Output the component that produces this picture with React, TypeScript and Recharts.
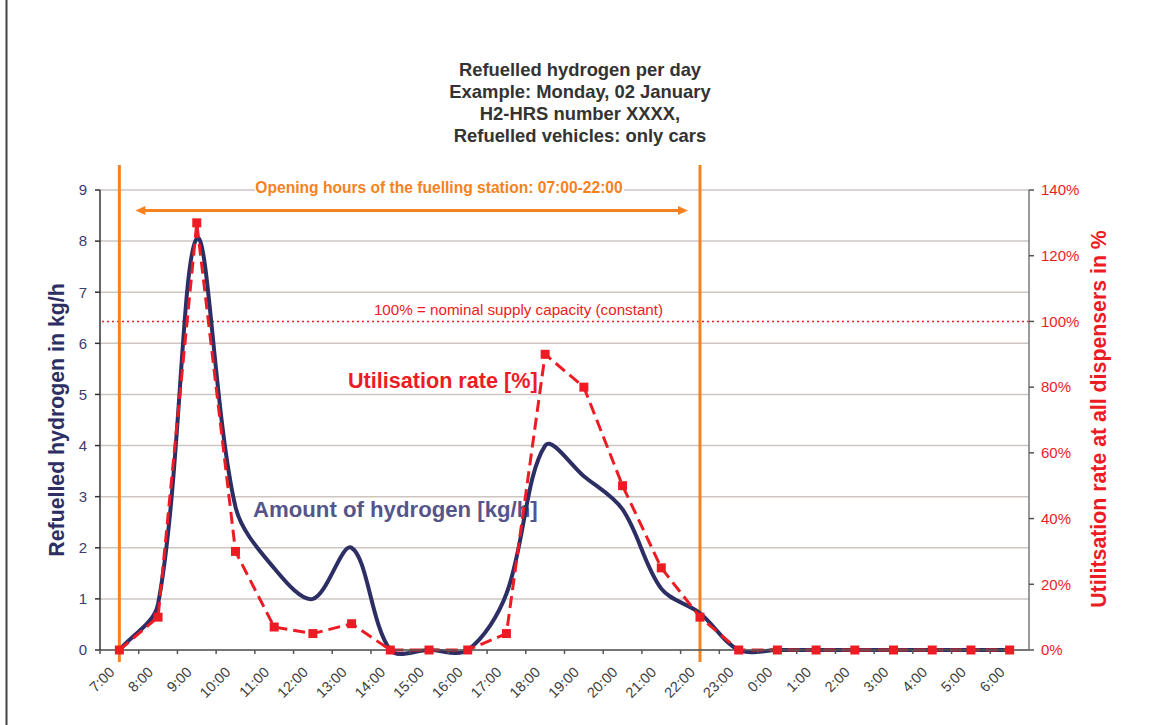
import {
  ComposedChart,
  Line,
  XAxis,
  YAxis,
  CartesianGrid,
  ReferenceLine,
  Customized,
} from 'recharts';

// hours of the day (one category per hour, starting at 7:00)
const hours = [
  '7:00', '8:00', '9:00', '10:00', '11:00', '12:00', '13:00', '14:00',
  '15:00', '16:00', '17:00', '18:00', '19:00', '20:00', '21:00', '22:00',
  '23:00', '0:00', '1:00', '2:00', '3:00', '4:00', '5:00', '6:00',
];

// refuelled hydrogen in kg/h
const hydrogenKgH = [
  0, 0.9, 8.05, 2.8, 1.6, 1.0, 2.0, 0,
  0, 0, 1.1, 4.0, 3.4, 2.75, 1.2, 0.72,
  0, 0, 0, 0, 0, 0, 0, 0,
];

// utilisation rate at all dispensers in %
const utilisationPct = [
  0, 10, 130, 30, 7, 5, 8, 0,
  0, 0, 5, 90, 80, 50, 25, 10,
  0, 0, 0, 0, 0, 0, 0, 0,
];

const leftTicks = [0, 1, 2, 3, 4, 5, 6, 7, 8, 9];
const rightTicks = [0, 20, 40, 60, 80, 100, 120, 140];

const titleLines = [
  'Refuelled hydrogen per day',
  'Example: Monday, 02 January',
  'H2-HRS number XXXX,',
  'Refuelled vehicles: only cars',
];

const data = hours.map((hour, i) => ({
  hour,
  hydrogen: hydrogenKgH[i],
  utilisation: utilisationPct[i],
}));

const FONT = '"Liberation Sans", Arial, sans-serif';
const NAVY = '#2c2e64';
const RED = '#ed1c24';
const ORANGE = '#f5821f';

// smoothed line like the spreadsheet one: bezier through the points,
// control arms scaled by the length of the neighbouring segments
const smoothCurve = (context: any) => {
  let pts: number[][] = [];
  const dist = (a: number[], b: number[]) => Math.hypot(a[0] - b[0], a[1] - b[1]);
  return {
    areaStart() {},
    areaEnd() {},
    lineStart() {
      pts = [];
    },
    point(x: number, y: number) {
      pts.push([+x, +y]);
    },
    lineEnd() {
      const n = pts.length;
      if (!n) return;
      // out / in control offsets for every point
      const outArm: number[][] = [];
      const inArm: number[][] = [];
      for (let i = 0; i < n; i++) {
        if (i === 0 || i === n - 1) {
          const a = pts[i === 0 ? 0 : n - 2];
          const b = pts[i === 0 ? 1 : n - 1];
          const t = n > 1 ? [(b[0] - a[0]) / 3, (b[1] - a[1]) / 3] : [0, 0];
          outArm.push(t);
          inArm.push(t);
          continue;
        }
        const prev = pts[i - 1];
        const cur = pts[i];
        const next = pts[i + 1];
        const tx = next[0] - prev[0];
        const ty = next[1] - prev[1];
        const d1 = dist(cur, prev);
        const d2 = dist(next, cur);
        const s = d1 + d2 || 1;
        outArm.push([(tx * d2) / s / 3, (ty * d2) / s / 3]);
        inArm.push([(tx * d1) / s / 3, (ty * d1) / s / 3]);
      }
      context.moveTo(pts[0][0], pts[0][1]);
      for (let i = 0; i < n - 1; i++) {
        const p1 = pts[i];
        const p2 = pts[i + 1];
        context.bezierCurveTo(
          p1[0] + outArm[i][0],
          p1[1] + outArm[i][1],
          p2[0] - inArm[i + 1][0],
          p2[1] - inArm[i + 1][1],
          p2[0],
          p2[1]
        );
      }
    },
  };
};

const HourTick = (props: any) => {
  const { x, y, payload, width, visibleTicksCount } = props;
  const bw = width && visibleTicksCount ? width / visibleTicksCount : 38.7;
  const bx = x - bw / 2;
  const ax = x - 4;
  const ay = y + 18;
  return (
    <g>
      <line x1={bx} y1={y - 5} x2={bx} y2={y - 1} stroke="#555" strokeWidth={1.5} />
      <text
        x={ax}
        y={ay}
        textAnchor="end"
        fontSize={14.5}
        fontFamily={FONT}
        fill="#404040"
        transform={`rotate(-45 ${ax} ${ay})`}
      >
        {payload.value}
      </text>
    </g>
  );
};

const SquareDot = (props: any) => {
  const { cx, cy, index } = props;
  if (cx == null || cy == null) return <g key={`sq-${index}`} />;
  return <rect key={`sq-${index}`} x={cx - 4.5} y={cy - 4.5} width={9} height={9} fill={RED} />;
};

// texts that sit behind the series
const Annotations = () => (
  <g fontFamily={FONT}>
    <line x1={6.5} y1={0} x2={6.5} y2={725} stroke="#444" strokeWidth={2} />
    {titleLines.map((t, i) => (
      <text key={t} x={580} y={76 + i * 21.9} textAnchor="middle" fontSize={18.4} fontWeight="bold" fill="#333">
        {t}
      </text>
    ))}
    <text
      x={58}
      y={420}
      textAnchor="middle"
      fontSize={21.3}
      fontWeight="bold"
      fill={NAVY}
      transform="rotate(-90 58 420)"
      dominantBaseline="middle"
    >
      Refuelled hydrogen in kg/h
    </text>
    <text
      x={1100}
      y={419}
      textAnchor="middle"
      fontSize={21.3}
      fontWeight="bold"
      fill={RED}
      transform="rotate(-90 1100 419)"
      dominantBaseline="middle"
    >
      Utilitsation rate at all dispensers in %
    </text>
    <rect x={255} y={180} width={369} height={18} fill="#fff" />
    <text x={439} y={193} textAnchor="middle" fontSize={15.6} fontWeight="bold" fill={ORANGE}>
      Opening hours of the fuelling station: 07:00-22:00
    </text>
    <text x={518.5} y={314.5} textAnchor="middle" fontSize={15.2} fill={RED}>
      100% = nominal supply capacity  (constant)
    </text>
    <text x={348} y={388} fontSize={21.6} fontWeight="bold" fill={RED}>
      Utilisation rate [%]
    </text>
    <text x={253} y={516.5} fontSize={22.2} fontWeight="bold" fill="#55558a">
      Amount of hydrogen [kg/h]
    </text>
  </g>
);

const OpeningLine = (p: any) => {
  const top = Math.min(p.y1, p.y2);
  const bottom = Math.max(p.y1, p.y2);
  return <line x1={p.x1} y1={top - 25} x2={p.x2} y2={bottom + 12} stroke={ORANGE} strokeWidth={3} />;
};

const OpeningArrow = (p: any) => {
  const x1 = Math.min(p.x1, p.x2) + 16;
  const x2 = Math.max(p.x1, p.x2) - 12;
  const y = p.y1;
  return (
    <g>
      <line x1={x1 + 8} y1={y} x2={x2 - 8} y2={y} stroke={ORANGE} strokeWidth={3} />
      <polygon points={`${x1},${y} ${x1 + 10},${y - 4.5} ${x1 + 10},${y + 4.5}`} fill={ORANGE} />
      <polygon points={`${x2},${y} ${x2 - 10},${y - 4.5} ${x2 - 10},${y + 4.5}`} fill={ORANGE} />
    </g>
  );
};

export default function App() {
  return (
    <div style={{ position: 'absolute', left: 0, top: 0, width: 1169, height: 725, background: '#fff' }}>
      <ComposedChart
        width={1169}
        height={725}
        data={data}
        margin={{ top: 190, right: 80, bottom: 15, left: 40 }}
        style={{ fontFamily: FONT }}
      >
        <CartesianGrid yAxisId="left" vertical={false} stroke="#cdc5c2" strokeWidth={1.5} />
        <Customized component={Annotations} />
        <XAxis
          dataKey="hour"
          scale="band"
          height={60}
          interval={0}
          tickLine={false}
          tickSize={5}
          tickMargin={0}
          tick={<HourTick />}
          axisLine={{ stroke: '#555', strokeWidth: 1.5 }}
        />
        <YAxis
          yAxisId="left"
          width={60}
          domain={[0, 9]}
          ticks={leftTicks}
          interval={0}
          tickSize={5}
          tickMargin={8}
          tick={{ fill: '#3c3c6e', fontSize: 15 }}
          axisLine={{ stroke: '#333', strokeWidth: 1.5 }}
          tickLine={{ stroke: '#333', strokeWidth: 1.5 }}
        />
        <YAxis
          yAxisId="right"
          orientation="right"
          width={60}
          domain={[0, 140]}
          ticks={rightTicks}
          interval={0}
          tickSize={5}
          tickMargin={7}
          tickFormatter={(v: number) => `${v}%`}
          tick={{ fill: RED, fontSize: 15 }}
          axisLine={{ stroke: '#777', strokeWidth: 1.5 }}
          tickLine={{ stroke: '#555', strokeWidth: 1.5 }}
        />
        <ReferenceLine
          yAxisId="right"
          y={100}
          stroke={RED}
          strokeWidth={1.5}
          strokeDasharray="2 3"
        />
        <ReferenceLine yAxisId="left" x="7:00" shape={OpeningLine} />
        <ReferenceLine yAxisId="left" x="22:00" shape={OpeningLine} />
        <ReferenceLine
          yAxisId="left"
          segment={[{ x: '7:00', y: 8.6 }, { x: '22:00', y: 8.6 }]}
          shape={OpeningArrow}
        />
        <Line
          yAxisId="left"
          dataKey="hydrogen"
          type={smoothCurve as any}
          stroke={NAVY}
          strokeWidth={4}
          dot={false}
          activeDot={false}
          isAnimationActive={false}
        />
        <Line
          yAxisId="right"
          dataKey="utilisation"
          type="linear"
          stroke={RED}
          strokeWidth={3}
          strokeDasharray="12 6"
          dot={SquareDot}
          activeDot={false}
          isAnimationActive={false}
        />
      </ComposedChart>
    </div>
  );
}
